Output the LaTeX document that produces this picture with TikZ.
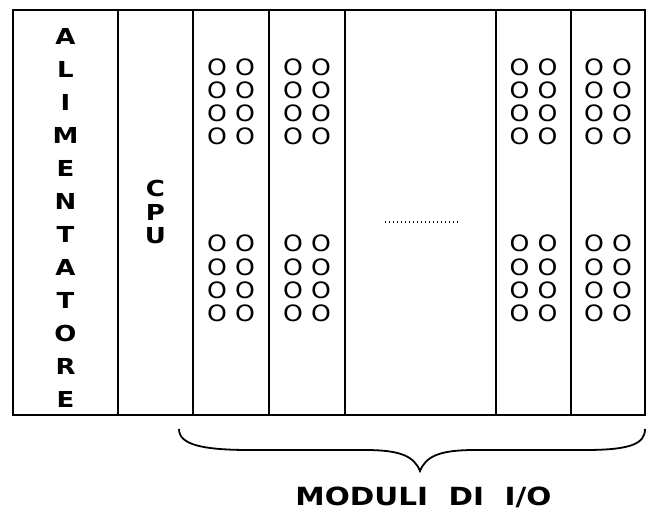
\documentclass[tikz,border=0pt]{standalone}
\usepackage{fontspec}
\usepackage{graphicx}
\setmainfont{DejaVu Sans}
\newfontfamily\widefont[FakeStretch=1.18]{DejaVu Sans}
\newfontfamily\ledfont[FakeStretch=1.12]{DejaVu Sans}
\begin{document}
\begin{tikzpicture}[x=1pt,y=-1pt,
  frame/.style={line width=2pt},
  vletter/.style={font=\widefont\fontsize{22}{22}\selectfont\bfseries, inner sep=0pt},
  ioled/.style={font=\ledfont\fontsize{22.5}{22.5}\selectfont, inner sep=0pt},
  dots/.style={line width=1.4pt, dash pattern=on 1.4pt off 2.6pt},
  brace/.style={line width=1.8pt}]
\useasboundingbox (0,0) rectangle (647,511);
% frame and column separators
\draw[frame] (13,10) rectangle (645,415);
\foreach \xx/\nm in {118/c1,193/c2,269/c3,345/c4,496/c5,571/c6}{
  \coordinate (\nm t) at (\xx,10);
  \coordinate (\nm b) at (\xx,415);
  \draw[frame] (\nm t) -- (\nm b);
}
% ALIMENTATORE
\foreach \ch [count=\k from 0] in {A,L,I,M,E,N,T,A,T,O,R,E}{
  \node[vletter] (al\k) at (65.5,36.5+33*\k) {\ch};
}
% CPU
\node[vletter] (cpuC) at (155.5,188) {C};
\node[vletter] (cpuP) at (155.5,212) {P};
\node[vletter] (cpuU) at (155.5,236) {U};
% I/O leds
\foreach \cx [count=\m] in {231,307,533.5,608}{
  \foreach \ry [count=\r] in {67,90,113,136,243,267,290,313}{
    \node[ioled] (la\m-\r) at (\cx-14,\ry) {O};
    \node[ioled] (lb\m-\r) at (\cx+14,\ry) {O};
  }
}
% dotted line in the middle
\coordinate (dl) at (385,222);
\coordinate (dr) at (458,222);
\draw[dots] (dl) -- (dr);
% brace
\coordinate (bl) at (179,429);
\coordinate (btip) at (420,471);
\coordinate (br) at (645,429);
\draw[brace] (bl) .. controls (179,444) and (200,450) .. (250,450)
  -- (365,450) .. controls (400,450) and (414,456) .. (btip)
  .. controls (426,456) and (440,450) .. (475,450)
  -- (585,450) .. controls (630,450) and (645,444) .. (br);
\node[font=\widefont\fontsize{25}{25}\selectfont\bfseries, inner sep=0pt] (lbl) at (423.5,497)
  {MODULI\ \ DI\ \ I/O};
\end{tikzpicture}
\end{document}
